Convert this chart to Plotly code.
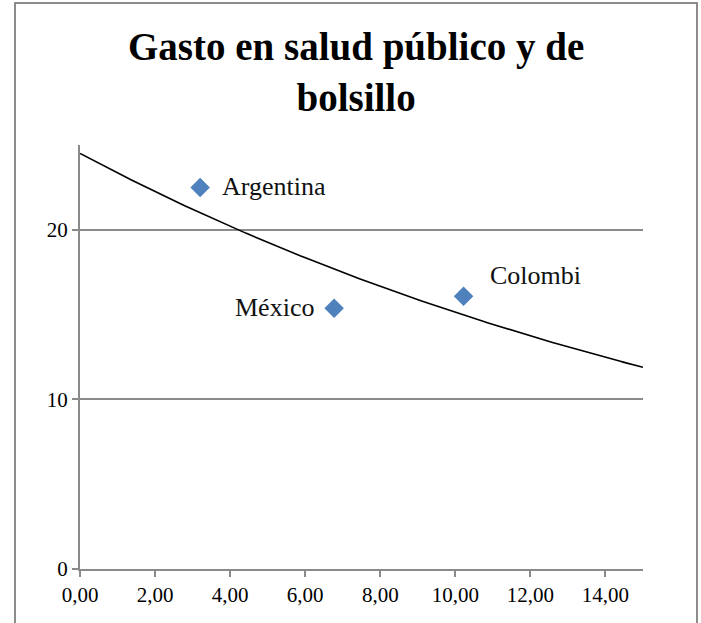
import numpy as np
import plotly.graph_objects as go

# Data
countries = ["Argentina", "México", "Colombi"]
x_vals = [3.2, 6.77, 10.22]
y_vals = [22.5, 15.37, 16.08]
x_ticks = [0, 2, 4, 6, 8, 10, 12, 14]
y_ticks = [0, 10, 20]
title_text = "<b>Gasto en salud público y de<br>bolsillo</b>"

# Exponential trendline fitted from the data (as Excel does)
b, a = np.polyfit(np.array(x_vals), np.log(np.array(y_vals)), 1)
tx = np.linspace(0, 15, 200)
ty = np.exp(a) * np.exp(b * tx)

SERIF = "Liberation Serif"
GRID = "#8a8a8a"

fig = go.Figure()
fig.add_trace(go.Scatter(x=tx, y=ty, mode="lines",
                         line=dict(color="black", width=1.6),
                         hoverinfo="skip", showlegend=False))
fig.add_trace(go.Scatter(x=x_vals, y=y_vals, mode="markers",
                         marker=dict(symbol="diamond", size=15, color="#4F81BD"),
                         showlegend=False))

label_style = [
    dict(xanchor="left", yanchor="middle", xshift=20, yshift=1),
    dict(xanchor="right", yanchor="middle", xshift=-18, yshift=1),
    dict(xanchor="left", yanchor="middle", xshift=24, yshift=21),
]
for c, xv, yv, st in zip(countries, x_vals, y_vals, label_style):
    fig.add_annotation(x=xv, y=yv, text=c, showarrow=False,
                       font=dict(family=SERIF, size=26, color="#111111"), **st)

# Title (as annotation for precise placement)
fig.add_annotation(xref="paper", yref="paper",
                   x=(356 - 80) / 563, y=(569 - 72) / 424,
                   xanchor="center", yanchor="middle",
                   text=title_text, showarrow=False,
                   font=dict(family=SERIF, size=39, color="black"))

# Outer chart border
fig.add_shape(type="rect", xref="paper", yref="paper",
              x0=(15 - 80) / 563, x1=(697 - 80) / 563,
              y0=(569 - 640) / 424, y1=(569 - 3) / 424,
              line=dict(color="#8c8c8c", width=2), layer="below")

fig.update_layout(
    width=701, height=623,
    margin=dict(l=80, r=58, t=145, b=54),
    paper_bgcolor="white", plot_bgcolor="white",
    separators=",.",
    xaxis=dict(range=[0, 15], tickvals=x_ticks, tickformat=".2f",
               showgrid=False, zeroline=False,
               showline=True, linecolor=GRID, linewidth=2,
               ticks="outside", ticklen=6, tickcolor=GRID, tickwidth=2,
               tickfont=dict(family=SERIF, size=21, color="black")),
    yaxis=dict(range=[0, 25], tickvals=y_ticks,
               showgrid=True, gridcolor=GRID, gridwidth=2, zeroline=False,
               showline=True, linecolor=GRID, linewidth=2,
               ticks="outside", ticklen=6, tickcolor=GRID, tickwidth=2,
               tickfont=dict(family=SERIF, size=21, color="black")),
)

fig.write_html("out.html")
